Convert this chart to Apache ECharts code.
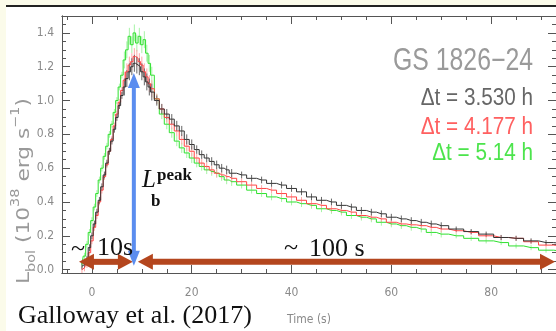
<!DOCTYPE html>
<html>
<head>
<meta charset="utf-8">
<script src="https://cdn.jsdelivr.net/npm/echarts@6/dist/echarts.min.js"></script>
<style>
html, body { margin: 0; padding: 0; background: #fbfbea; }
#bg { position: absolute; left: 6px; top: 5px; width: 550px; height: 326px; background: #fff; border-top: 2px solid #222; }
#chart { position: absolute; left: 0; top: 0; width: 556px; height: 331px; }
</style>
</head>
<body>
<div id="bg"></div>
<div id="chart"></div>
<script>
// time bins (s)
const times = [-2, -1.5, -1, -0.5, 0, 0.5, 1, 1.5, 2, 2.5, 3, 3.5, 4, 4.5, 5, 5.5, 6,
  6.5, 7, 7.5, 8, 8.5, 9, 9.5, 10, 10.5, 11, 11.5, 12,
  13, 14, 15, 16, 17, 18, 19, 20, 21, 22, 23, 24, 25, 26, 27, 28,
  30, 32, 34, 36, 38, 40, 42, 44, 46, 48, 50, 52, 54, 56, 58, 60, 62, 64, 66, 68, 70,
  73, 76, 79, 82, 85, 88, 91, 94];
// L_bol (1e38 erg/s), dt = 3.530 h
const lumBlack = [0.02, 0.03, 0.06, 0.13, 0.2, 0.27, 0.34, 0.41, 0.49, 0.56, 0.63, 0.7, 0.76, 0.83, 0.9, 0.97, 1.03,
  1.08, 1.13, 1.17, 1.2, 1.22, 1.21, 1.2, 1.17, 1.14, 1.11, 1.08, 1.05,
  1.0, 0.95, 0.92, 0.89, 0.85, 0.82, 0.77, 0.74, 0.71, 0.68, 0.66, 0.64, 0.62, 0.6, 0.59, 0.57,
  0.56, 0.54, 0.53, 0.51, 0.5, 0.48, 0.46, 0.43, 0.41, 0.4, 0.38, 0.37, 0.35, 0.34, 0.33, 0.31, 0.3, 0.29, 0.28, 0.27, 0.26,
  0.24, 0.225, 0.21, 0.19, 0.185, 0.17, 0.16, 0.155];
// dt = 4.177 h
const lumRed = [0, 0.01, 0.03, 0.1, 0.17, 0.25, 0.32, 0.4, 0.47, 0.55, 0.62, 0.7, 0.77, 0.85, 0.92, 0.99, 1.06,
  1.12, 1.17, 1.21, 1.23, 1.26, 1.25, 1.23, 1.21, 1.17, 1.14, 1.1, 1.07,
  1.01, 0.95, 0.9, 0.86, 0.82, 0.77, 0.73, 0.7, 0.66, 0.63, 0.61, 0.59, 0.57, 0.56, 0.55, 0.54,
  0.52, 0.5, 0.48, 0.47, 0.45, 0.43, 0.41, 0.39, 0.38, 0.36, 0.35, 0.34, 0.32, 0.31, 0.3, 0.28, 0.27, 0.265, 0.26, 0.25, 0.24,
  0.23, 0.22, 0.2, 0.19, 0.185, 0.165, 0.145, 0.14];
// dt = 5.14 h
const lumGreen = [0.03, 0.08, 0.15, 0.22, 0.29, 0.37, 0.45, 0.53, 0.6, 0.67, 0.73, 0.8, 0.86, 0.93, 1.0, 1.08, 1.15,
  1.24, 1.3, 1.38, 1.33, 1.4, 1.34, 1.38, 1.33, 1.36, 1.28, 1.22, 1.15,
  1.01, 0.92, 0.86, 0.81, 0.76, 0.72, 0.69, 0.66, 0.63, 0.61, 0.59, 0.58, 0.57, 0.55, 0.53, 0.52,
  0.5, 0.47, 0.45, 0.43, 0.42, 0.4, 0.39, 0.38, 0.36, 0.35, 0.34, 0.32, 0.31, 0.3, 0.28, 0.27, 0.26, 0.25, 0.24, 0.22, 0.21,
  0.2, 0.185, 0.17, 0.16, 0.14, 0.13, 0.115, 0.11];
// error bar half length
const errs = [0.02, 0.02, 0.02, 0.02, 0.02, 0.02, 0.02, 0.02, 0.02, 0.02, 0.02, 0.02, 0.02, 0.02, 0.02, 0.02, 0.02,
  0.05, 0.05, 0.05, 0.05, 0.05, 0.05, 0.05, 0.05, 0.05, 0.05, 0.05, 0.05,
  0.03, 0.03, 0.03, 0.03, 0.03, 0.03, 0.03, 0.03, 0.025, 0.025, 0.025, 0.025, 0.025, 0.025, 0.025, 0.025,
  0.02, 0.02, 0.02, 0.02, 0.02, 0.02, 0.02, 0.02, 0.02, 0.02, 0.02, 0.02, 0.02, 0.02, 0.02, 0.02, 0.02, 0.02, 0.02, 0.02, 0.02,
  0.015, 0.015, 0.015, 0.015, 0.015, 0.015, 0.015, 0.015];

const xMajor = [0, 20, 40, 60, 80];
const xMinor = [-5, 5, 10, 15, 25, 30, 35, 45, 50, 55, 65, 70, 75, 85, 90];
const yMajor = [0, 0.2, 0.4, 0.6, 0.8, 1.0, 1.2, 1.4];
const yMinor = [0.05, 0.1, 0.15, 0.25, 0.3, 0.35, 0.45, 0.5, 0.55, 0.65, 0.7, 0.75,
  0.85, 0.9, 0.95, 1.05, 1.1, 1.15, 1.25, 1.3, 1.35, 1.45];
const sourceName = 'GS 1826−24';
const recurrence = ['Δt = 3.530 h', 'Δt = 4.177 h', 'Δt = 5.14 h'];

const axisFont = "'Liberation Sans Narrow', 'DejaVu Sans Condensed', 'Liberation Sans', sans-serif";
const sans = "'Liberation Sans', sans-serif";
const serif = "'Liberation Serif', 'DejaVu Serif', serif";
const axisColor = '#555';

function xAxisOf(pos, vals, len, labels) {
  return {
    type: 'value', position: pos, min: -6, max: 93,
    axisLine: { show: true, onZero: false, lineStyle: { color: axisColor } },
    axisTick: { show: true, inside: true, length: len, customValues: vals, lineStyle: { color: axisColor } },
    axisLabel: labels ? {
      show: true, customValues: vals, margin: 14, color: '#8a8a8a', fontSize: 12, fontFamily: axisFont
    } : { show: false },
    splitLine: { show: false }
  };
}

function yAxisOf(pos, vals, len, labels) {
  return {
    type: 'value', position: pos, min: -0.02, max: 1.5,
    axisLine: { show: true, onZero: false, lineStyle: { color: axisColor } },
    axisTick: { show: true, inside: true, length: len, customValues: vals, lineStyle: { color: axisColor } },
    axisLabel: labels ? {
      show: true, customValues: vals, margin: 8, color: '#8a8a8a', fontSize: 12, fontFamily: axisFont,
      formatter: v => v.toFixed(1)
    } : { show: false },
    splitLine: { show: false }
  };
}

// 误差棒
function errSeries(vals, color) {
  return {
    type: 'custom',
    xAxisIndex: 0, yAxisIndex: 0,
    data: times.map((t, i) => [t, vals[i], errs[i]]),
    renderItem: function(params, api) {
      const a = api.coord([api.value(0), api.value(1) - api.value(2)]);
      const b = api.coord([api.value(0), api.value(1) + api.value(2)]);
      return { type: 'line', shape: { x1: a[0], y1: a[1], x2: b[0], y2: b[1] }, style: { stroke: color, lineWidth: 1 } };
    },
    z: 1
  };
}

// 阶梯光变曲线
function stepSeries(vals, color) {
  return {
    type: 'line', step: 'middle', showSymbol: false,
    data: times.map((t, i) => [t, vals[i]]),
    lineStyle: { color: color, width: 1 },
    z: 2
  };
}

const chart = echarts.init(document.getElementById('chart'));
const xMain = xAxisOf('bottom', xMajor, 8, true);
xMain.name = 'Time (s)';
xMain.nameLocation = 'middle';
xMain.nameGap = 41;
xMain.nameTextStyle = { color: '#8a8a8a', fontSize: 12, fontFamily: axisFont };

chart.setOption({
  animation: false,
  grid: { left: 62, top: 16, right: -1, bottom: 52 },
  xAxis: [xMain, xAxisOf('bottom', xMinor, 4, false), xAxisOf('top', xMajor, 8, false), xAxisOf('top', xMinor, 4, false)],
  yAxis: [yAxisOf('left', yMajor, 8, true), yAxisOf('left', yMinor, 4, false), yAxisOf('right', yMajor, 8, false), yAxisOf('right', yMinor, 4, false)],
  series: [
    errSeries(lumGreen, '#a6f4a6'),
    errSeries(lumRed, '#ffa8a8'),
    errSeries(lumBlack, '#666666'),
    stepSeries(lumGreen, '#2ee02e'),
    stepSeries(lumRed, '#ff4444'),
    stepSeries(lumBlack, '#333333')
  ]
});

// 标注
const px = (x, y) => chart.convertToPixel({ gridIndex: 0 }, [x, y]);
const brown = '#b4461e';
const blue = '#5b8def';

function hArrow(x1, x2, y, color, w, hl, hw) {
  const a = px(x1, y), b = px(x2, y);
  return [
    { type: 'line', shape: { x1: a[0] + hl - 1, y1: a[1], x2: b[0] - hl + 1, y2: b[1] }, style: { stroke: color, lineWidth: w }, z: 50 },
    { type: 'polygon', shape: { points: [[a[0], a[1]], [a[0] + hl, a[1] - hw], [a[0] + hl, a[1] + hw]] }, style: { fill: color }, z: 50 },
    { type: 'polygon', shape: { points: [[b[0], b[1]], [b[0] - hl, b[1] - hw], [b[0] - hl, b[1] + hw]] }, style: { fill: color }, z: 50 }
  ];
}

function vArrow(x, y1, y2, color, w, hl, hw) {
  const a = px(x, y1), b = px(x, y2);
  return [
    { type: 'line', shape: { x1: a[0], y1: a[1] + hl - 1, x2: b[0], y2: b[1] - hl + 1 }, style: { stroke: color, lineWidth: w }, z: 50 },
    { type: 'polygon', shape: { points: [[a[0], a[1]], [a[0] - hw, a[1] + hl], [a[0] + hw, a[1] + hl]] }, style: { fill: color }, z: 50 },
    { type: 'polygon', shape: { points: [[b[0], b[1]], [b[0] - hw, b[1] - hl], [b[0] + hw, b[1] - hl]] }, style: { fill: color }, z: 50 }
  ];
}

function txt(text, x, y, size, color, family, extra) {
  return {
    type: 'text', x: x, y: y, z: 60,
    style: Object.assign({ text: text, fontSize: size, fill: color, fontFamily: family, verticalAlign: 'middle' }, extra || {})
  };
}

const graphics = []
  .concat(hArrow(-2.6, 8.2, 0.046, brown, 6, 15, 8))
  .concat(hArrow(9.2, 92.8, 0.046, brown, 6, 15, 8))
  .concat(vArrow(8.4, 1.163, 0.023, blue, 4, 15, 6))
  .concat([
    txt('~', 71, 249, 26, '#111', serif),
    txt('10s', 97, 248.5, 26, '#111', serif),
    txt('~', 284, 248, 26, '#111', serif),
    txt('100 s', 309, 249.5, 26, '#111', serif),
    txt('Galloway et al. (2017)', 18, 316, 26, '#111', serif),
    txt('L', 142, 180.5, 25, '#111', serif, { fontStyle: 'italic' }),
    txt('peak', 157, 176, 17, '#111', serif, { fontWeight: 'bold' }),
    txt('b', 151, 202, 17, '#111', serif, { fontWeight: 'bold' }),
    Object.assign(txt(sourceName, 533, 61.5, 31, '#9a9a9a', sans, { align: 'right' }), { scaleX: 0.8 }),
    Object.assign(txt(recurrence[0], 533, 99, 23, '#666', sans, { align: 'right' }), { scaleX: 0.9 }),
    Object.assign(txt(recurrence[1], 533, 127.5, 23, '#ff6060', sans, { align: 'right' }), { scaleX: 0.9 }),
    Object.assign(txt(recurrence[2], 533, 153.5, 23, '#4ce44c', sans, { align: 'right' }), { scaleX: 0.9 }),
    {
      type: 'text', x: 24, y: 191, rotation: Math.PI / 2, scaleX: 1.34, z: 60,
      style: {
        text: '{a|L}{s|bol}{a| (10}{p|38}{a| erg s}{p|−1}{a|)}',
        align: 'center', verticalAlign: 'middle',
        rich: {
          a: { fontSize: 18, fill: '#999', fontFamily: axisFont, lineHeight: 28, verticalAlign: 'middle' },
          s: { fontSize: 12, fill: '#999', fontFamily: axisFont, lineHeight: 28, verticalAlign: 'bottom' },
          p: { fontSize: 12, fill: '#999', fontFamily: axisFont, lineHeight: 28, verticalAlign: 'top' }
        }
      }
    }
  ]);

chart.setOption({ graphic: { elements: graphics } });
</script>
</body>
</html>
